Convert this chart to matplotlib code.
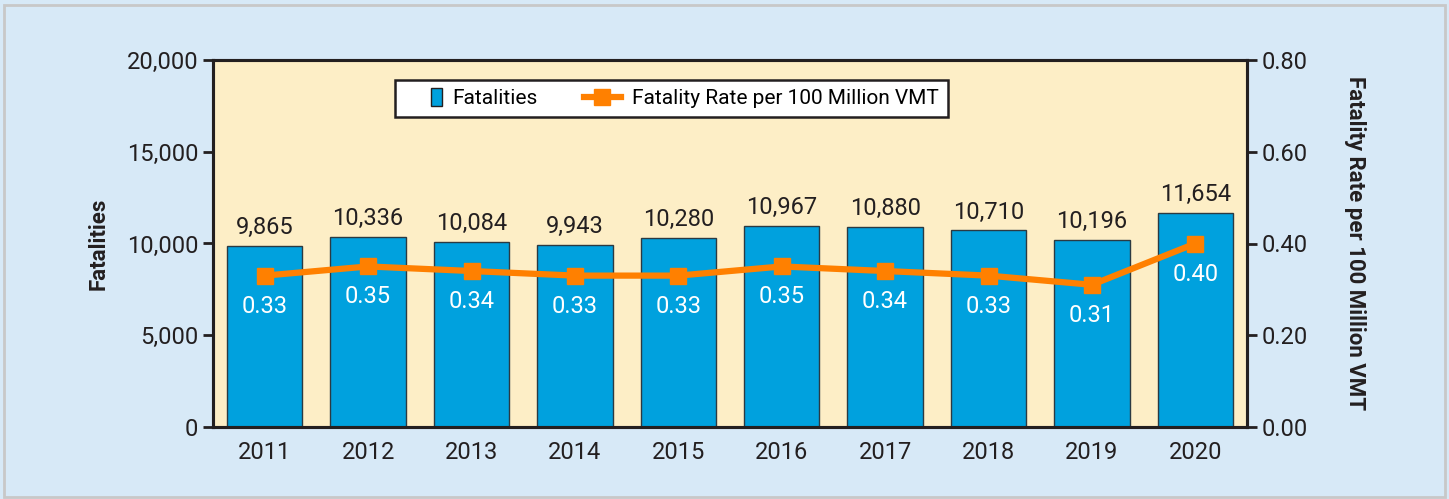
import matplotlib
matplotlib.use("Agg")
import matplotlib.pyplot as plt
from matplotlib.patches import Rectangle
from matplotlib.lines import Line2D
from matplotlib.ticker import FuncFormatter
from matplotlib.legend_handler import HandlerPatch

plt.rcParams['font.family'] = ['Roboto', 'DejaVu Sans']

years = ['2011', '2012', '2013', '2014', '2015', '2016', '2017', '2018', '2019', '2020']
fatalities = [9865, 10336, 10084, 9943, 10280, 10967, 10880, 10710, 10196, 11654]
rates = [0.33, 0.35, 0.34, 0.33, 0.33, 0.35, 0.34, 0.33, 0.31, 0.40]

BG = '#d7e9f7'
FACE = '#fdeec6'
BAR = '#00a1de'
ORANGE = '#ff8000'
DARK = '#231f20'

fig = plt.figure(figsize=(14.49, 4.99), dpi=100, facecolor=BG)
fig.patches.append(Rectangle((0.003, 0.004), 0.994, 0.985, transform=fig.transFigure,
                             facecolor=BG, edgecolor='#c8c8c8', linewidth=2, zorder=-10))

W, H = 1449, 499
left, right, top, bottom = 213, 1247, 60, 427
ax = fig.add_axes([left / W, 1 - bottom / H, (right - left) / W, (bottom - top) / H])
ax.set_facecolor(FACE)
x = list(range(len(years)))
ax.bar(x, fatalities, width=0.73, color=BAR, edgecolor='#2b3a42', linewidth=1.0, zorder=2)
ax.set_xlim(-0.5, len(years) - 0.5)
ax.set_ylim(0, 20000)
ax.set_yticks([0, 5000, 10000, 15000, 20000])
ax.yaxis.set_major_formatter(FuncFormatter(lambda v, p: f'{int(v):,}'))
ax.set_xticks(x)
ax.set_xticklabels(years)
for s in ax.spines.values():
    s.set_linewidth(2.2)
    s.set_color(DARK)
ax.tick_params(axis='both', labelsize=17, colors=DARK, width=2, length=7)
ax.tick_params(axis='x', length=0, pad=10)
ax.set_ylabel('Fatalities', fontsize=16, fontweight='bold', color=DARK, labelpad=12)
for xi, v in zip(x, fatalities):
    ax.annotate(f'{v:,}', (xi, v), xytext=(0, 5), textcoords='offset points',
                ha='center', va='bottom', fontsize=17, color=DARK, zorder=5)

ax2 = ax.twinx()
ax2.set_ylim(0, 0.8)
ax2.set_yticks([0, 0.2, 0.4, 0.6, 0.8])
ax2.yaxis.set_major_formatter(FuncFormatter(lambda v, p: f'{v:.2f}'))
ax2.plot(x, rates, color=ORANGE, linewidth=4.5, marker='s', markersize=12, zorder=4)
for s in ax2.spines.values():
    s.set_linewidth(2.2)
    s.set_color(DARK)
ax2.tick_params(axis='y', labelsize=17, colors=DARK, width=2, length=7)
ax2.set_ylabel('Fatality Rate per 100 Million VMT', fontsize=16, fontweight='bold',
               color=DARK, rotation=270, labelpad=42)
for xi, r in zip(x, rates):
    ax2.annotate(f'{r:.2f}', (xi, r), xytext=(0, -22), textcoords='offset points',
                 ha='center', va='center', fontsize=17, color='white', zorder=5)


def narrow_patch(legend, orig_handle, xdescent, ydescent, width, height, fontsize):
    w = height * 0.75
    h = height * 1.25
    return Rectangle((-xdescent + width - w, -ydescent - (h - height) / 2), w, h)


handles = [Rectangle((0, 0), 1, 1, facecolor=BAR, edgecolor=DARK, linewidth=1),
           Line2D([0], [0], color=ORANGE, linewidth=4.5, marker='s', markersize=12)]
leg = fig.legend(handles, ['Fatalities', 'Fatality Rate per 100 Million VMT'],
                 loc='center', bbox_to_anchor=(671.5 / W, 1 - 98.5 / H),
                 ncol=2, fontsize=15, frameon=True, fancybox=False, framealpha=1,
                 edgecolor=DARK, handlelength=1.8, columnspacing=2.2, borderpad=0.45,
                 handletextpad=0.5, borderaxespad=0,
                 handler_map={Rectangle: HandlerPatch(patch_func=narrow_patch)})
leg.get_frame().set_linewidth(1.8)

fig.savefig('out.png', dpi=100, facecolor=BG)
